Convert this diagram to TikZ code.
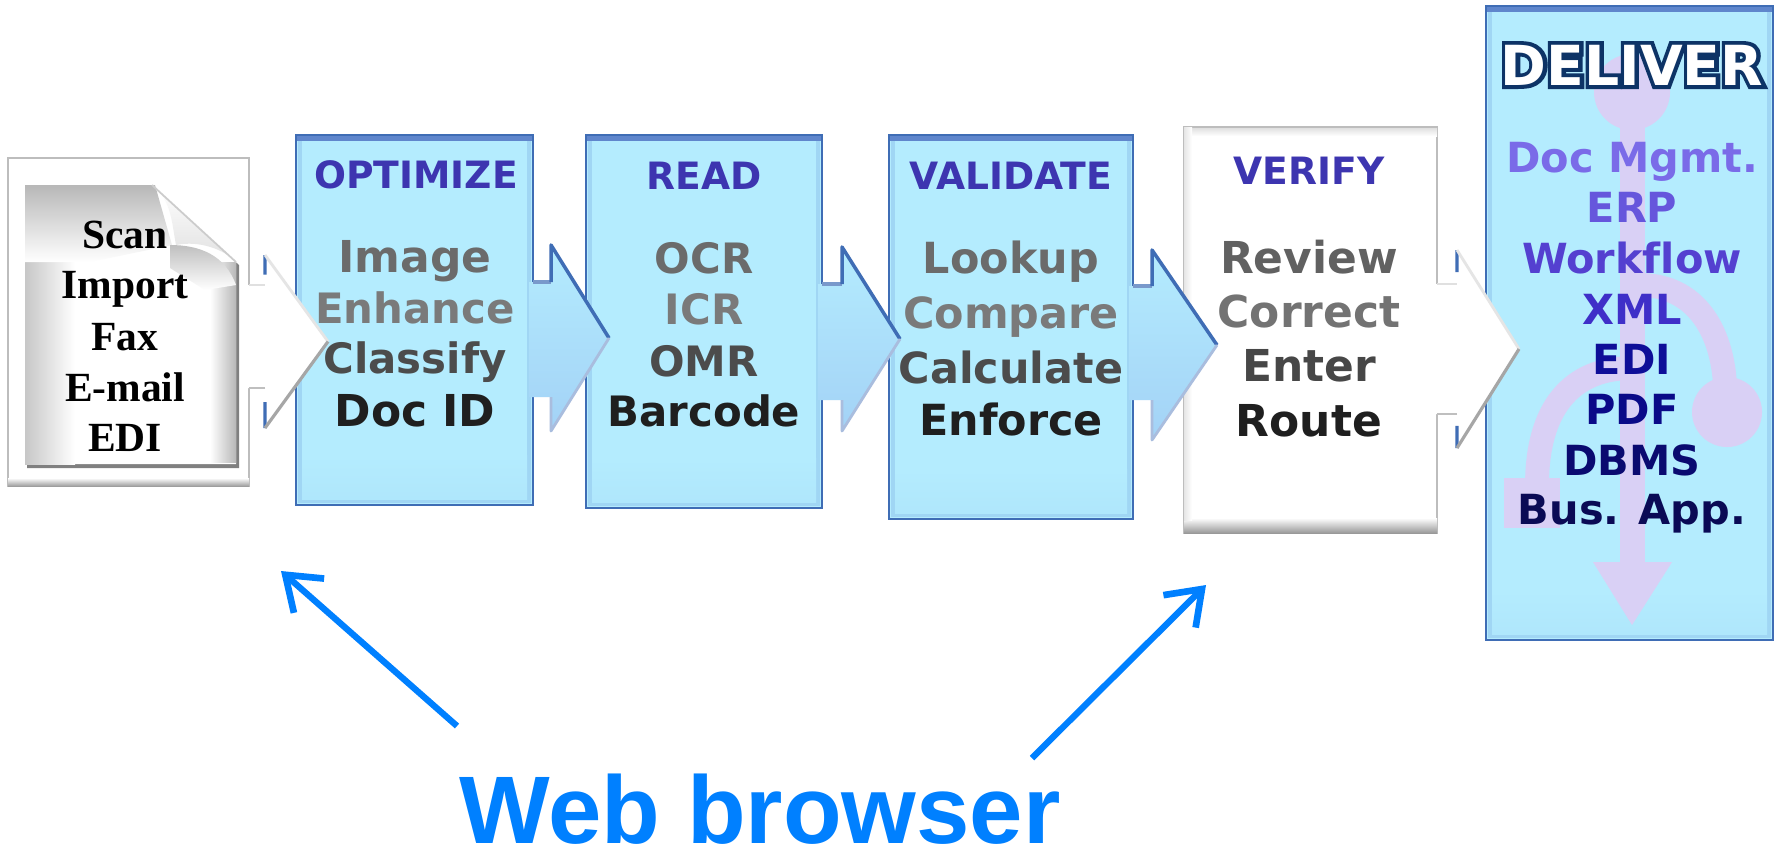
\documentclass[tikz,border=0pt]{standalone}
\usepackage{fontspec}
\setmainfont[Ligatures=NoCommon]{DejaVu Sans}
\newfontfamily\docfont{Liberation Serif}
\newfontfamily\webfont{Liberation Sans}
\usetikzlibrary{arrows.meta,calc}
\definecolor{boxfill}{HTML}{B4ECFE}
\definecolor{boxedge}{HTML}{3F6DB5}
\definecolor{boxglow}{HTML}{93C8EE}
\definecolor{boxtop}{HTML}{5F86CC}
\definecolor{arrowlow}{HTML}{A3D2F6}
\definecolor{head}{HTML}{3D35B0}
\definecolor{webblue}{HTML}{0080FF}
\definecolor{flow}{HTML}{D9D0F5}
\definecolor{edgegray}{HTML}{BDBDBD}
\definecolor{HTMLa}{HTML}{7A6BE8}
\definecolor{HTMLb}{HTML}{6656DC}
\definecolor{HTMLc}{HTML}{5440D0}
\definecolor{HTMLd}{HTML}{3F2FC8}
\definecolor{HTMLe}{HTML}{0E0E98}
\definecolor{HTMLf}{HTML}{0A0A88}
\definecolor{HTMLg}{HTML}{0A0A70}
\definecolor{HTMLh}{HTML}{0A0A55}
\tikzset{
 x=0.01cm,y=-0.01cm,
 headtext/.style={font=\bfseries\fontsize{10.7}{12}\selectfont,text=head,inner sep=0pt,anchor=center},
 itemtext/.style={font=\bfseries\fontsize{11.9}{14}\selectfont,inner sep=0pt,anchor=center},
 itemmid/.style={font=\bfseries\fontsize{12.2}{14}\selectfont,inner sep=0pt,anchor=center},
 itembig/.style={font=\bfseries\fontsize{12.5}{14}\selectfont,inner sep=0pt,anchor=center},
 doctext/.style={font=\docfont\bfseries\fontsize{11.8}{14}\selectfont,text=black,inner sep=0pt,anchor=center},
 dtext/.style={font=\bfseries\fontsize{11.8}{14}\selectfont,inner sep=0pt,anchor=center},
 webarrow/.style={draw=webblue,line width=1.8pt,-{Straight Barb[length=9pt,width=13pt,line width=1.9pt]}},
}
\newcommand{\ablock}[7]{%
 \coordinate (a0) at ({#1-4},#4);\coordinate (a8) at ({#1-4},#5);
 \coordinate (a1) at (#1,#4);\coordinate (a2) at (#2,#4);\coordinate (a3) at (#2,#6);
 \coordinate (a5) at (#2,#7);\coordinate (a6) at (#2,#5);\coordinate (a7) at (#1,#5);
 \coordinate (a4) at (#3,{(#6+#7)/2});
}
\newcommand{\bluearrow}[7]{\ablock{#1}{#2}{#3}{#4}{#5}{#6}{#7}
 \shade[top color=boxfill,bottom color=arrowlow] (a0)--(a2)--(a3)--(a4)--(a5)--(a6)--(a8)--cycle;
 \draw[boxedge!70,line width=1pt] (a1)--(a2);
 \draw[boxedge,line width=1pt,line join=round] (a2)--(a3)--(a4);
 \draw[boxedge!45,line width=0.8pt,line join=round] (a4)--(a5)--(a6);
}
\newcommand{\whitearrow}[7]{\ablock{#1}{#2}{#3}{#4}{#5}{#6}{#7}
 \fill[white] (a0)--(a2)--(a3)--(a4)--(a5)--(a6)--(a8)--cycle;
 \draw[boxedge,line width=0.9pt] ($(a2)!0.35!(a3)$)--(a3);
 \draw[boxedge,line width=0.9pt] ($(a6)!0.35!(a5)$)--(a5);
 \draw[black!12,line width=0.8pt] (a1)--(a2);
 \draw[black!10,line width=0.8pt] (a3)--(a4);
 \draw[black!35,line width=0.9pt] (a4)--(a5);
 \draw[black!25,line width=0.8pt] (a6)--(a7);
}
\newcommand{\boxblue}[5]{%
 \fill[boxfill] (#1,#2) rectangle (#3,#4);
 \draw[boxglow!60!boxfill,line width=0.9pt] ($(#1,#2)+(4,4)$) rectangle ($(#3,#4)+(-4,-4)$);
 \shade[top color=boxfill,bottom color=boxfill!85!boxglow] ($(#1,#4)+(6,-50)$) rectangle ($(#3,#4)+(-6,-6)$);
 \fill[boxtop] (#1,#2) rectangle (#3,{#2+6});
 \draw[boxedge,line width=0.6pt] (#1,#2) rectangle (#3,#4);
 \coordinate (#5) at ({(#1+#3)/2},{(#2+#4)/2});
}
\begin{document}
\begin{tikzpicture}
\useasboundingbox (0,0) rectangle (1780,850);
\fill[white] (0,0) rectangle (1780,850);
% blue boxes
\boxblue{296}{135}{533}{505}{boxopt}
\boxblue{586}{135}{822}{508}{boxread}
\boxblue{889}{135}{1133}{519}{boxval}
% verify box
\fill[white] (1184,127) rectangle (1437,533);
\draw[edgegray,line width=0.6pt] (1184,127) rectangle (1437,533);
\shade[top color=black!12,bottom color=white] (1184,128) rectangle (1437,136);
\shade[top color=white,bottom color=black!40] (1184,518) rectangle (1437,533);
\shade[left color=black!10,right color=white] (1184,127) rectangle (1192,520);
% deliver box
\boxblue{1486}{6}{1773}{640}{boxdel}
% flow in deliver
\fill[flow] (1632,92) circle[radius=38];
\fill[flow] (1620,120) rectangle (1645,565);
\fill[flow] (1593,562) -- (1672,562) -- (1632,625) -- cycle;
\draw[flow,line width=6.8pt] (1640,285) .. controls (1695,285) and (1722,330) .. (1725,385);
\fill[flow] (1727,412) circle[radius=35];
\draw[flow,line width=6.8pt] (1632,368) .. controls (1570,368) and (1537,410) .. (1537,485);
\fill[flow] (1504,478) rectangle (1560,528);
% document panel
\fill[white] (8,158) rectangle (249,486);
\draw[edgegray,line width=0.7pt] (8,158) rectangle (249,486);
\shade[top color=white,bottom color=black!38] (8,478) rectangle (249,486);
% page
\fill[black!50] (27,190) -- (155,190) -- (239,265) -- (239,468) -- (27,468) -- cycle;
\fill[white] (25,185) -- (152,185) -- (236,262) -- (236,464) -- (25,464) -- cycle;
\shade[left color=black!22,right color=white] (25,185) -- (75,185) -- (75,464) -- (25,464) -- cycle;
\shade[top color=black!28,bottom color=white] (25,185) -- (155,185) -- (172,245) -- (90,262) -- (25,262) -- cycle;
\shade[left color=white,right color=black!28] (210,262) -- (236,262) -- (236,462) -- (210,462) -- cycle;
\shade[top color=black!25,bottom color=white] (170,245) .. controls (200,245) and (225,255) .. (236,285) -- (205,290) -- (170,268) -- cycle;
% curled flap
\shade[top color=white,bottom color=black!12] (152,185) .. controls (172,200) and (172,225) .. (176,245) .. controls (200,240) and (225,250) .. (236,262) -- cycle;
\draw[black!20,line width=0.5pt] (152,185) -- (236,262);
% block arrows
\whitearrow{249}{265}{328}{285}{388}{255}{428}
\bluearrow{533}{551}{609}{282}{397}{245}{431}
\bluearrow{822}{842}{900}{284}{400}{247}{431}
\bluearrow{1133}{1152}{1217}{286}{400}{250}{440}
\whitearrow{1437}{1457}{1519}{284}{414}{250}{448}
% doc text
\node[doctext] (dscan) at (125,235) {Scan};
\node[doctext] (dimp) at (125,289) {Import};
\node[doctext] (dfax) at (125,337) {Fax};
\node[doctext] (dmail) at (125,387) {E-mail};
\node[doctext] (dedi) at (125,438) {EDI};
% optimize
\node[headtext] (h1) at (416,175) {OPTIMIZE};
\node[itembig,text=black!58] (o1) at (415,261) {Image};
\node[itemtext,text=black!52] (o2) at (415,308) {Enhance};
\node[itemtext,text=black!70] (o3) at (415,362) {Classify};
\node[itembig,text=black!88] (o4) at (415,411) {Doc ID};
% read
\node[headtext] (h2) at (704,176) {READ};
\node[itemtext,text=black!58] (r1) at (704,258) {OCR};
\node[itemtext,text=black!52] (r2) at (704,309) {ICR};
\node[itemtext,text=black!70] (r3) at (704,361) {OMR};
\node[itemtext,text=black!88] (r4) at (704,411) {Barcode};
% validate
\node[headtext] (h3) at (1011,176) {VALIDATE};
\node[itemmid,text=black!58] (v1) at (1011,262) {Lookup};
\node[itemmid,text=black!52] (v2) at (1011,317) {Compare};
\node[itemmid,text=black!70] (v3) at (1011,367) {Calculate};
\node[itemmid,text=black!88] (v4) at (1011,419) {Enforce};
% verify
\node[headtext] (h4) at (1309,171) {VERIFY};
\node[itembig,text=black!62] (f1) at (1309,257) {Review};
\node[itembig,text=black!55] (f2) at (1309,311) {Correct};
\node[itembig,text=black!72] (f3) at (1309,366) {Enter};
\node[itembig,text=black!88] (f4) at (1309,421) {Route};
% deliver
\node[inner sep=0pt,font=\bfseries\fontsize{15.7}{18}\selectfont] (dh) at (1632,65)
 {\special{pdf:code q 1 Tr 2.2 w 0.05 0.2 0.4 RG}\rlap{DELIVER}\special{pdf:code Q}\special{pdf:code q 0 Tr 1 1 1 rg}DELIVER\special{pdf:code Q}};
\node[dtext,text=HTMLa] (l1) at (1632,162) {Doc Mgmt.};
\node[dtext,text=HTMLb] (l2) at (1632,207) {ERP};
\node[dtext,text=HTMLc] (l3) at (1632,258) {Workflow};
\node[dtext,text=HTMLd] (l4) at (1632,309) {XML};
\node[dtext,text=HTMLe] (l5) at (1632,359) {EDI};
\node[dtext,text=HTMLf] (l6) at (1632,409) {PDF};
\node[dtext,text=HTMLg] (l7) at (1632,460) {DBMS};
\node[dtext,text=HTMLh] (l8) at (1632,514) {Bus. App.};
% web browser
\node[inner sep=0pt,font=\webfont\bfseries\fontsize{27.3}{30}\selectfont,text=webblue] (web) at (760,809) {Web browser};
\coordinate (wa) at (457,726);
\coordinate (wb) at (281,571);
\coordinate (wc) at (1032,758);
\coordinate (wd) at (1206,585);
\draw[webarrow] (wa) -- (wb);
\draw[webarrow] (wc) -- (wd);
\end{tikzpicture}
\end{document}
